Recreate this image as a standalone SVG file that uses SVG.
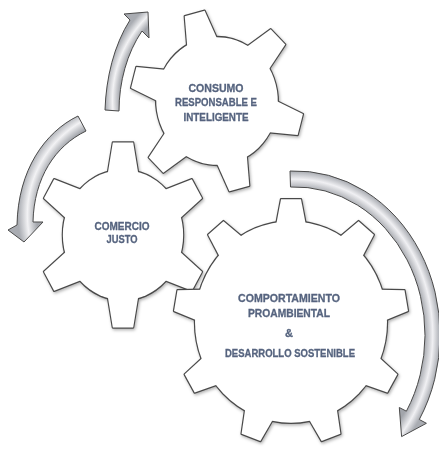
<svg xmlns="http://www.w3.org/2000/svg" xmlns:xlink="http://www.w3.org/1999/xlink" width="439" height="450" viewBox="0 0 439 450">
<defs>
<style>
.gear-out { fill:#4a4a4a; stroke:#4a4a4a; stroke-width:2.4; stroke-linejoin:round; }
.gear-in { fill:#ffffff; stroke:none; }
.gear { filter:url(#shadow); }
.lbl { font-family:"Liberation Sans", Arial, sans-serif; font-weight:bold; font-size:11px; fill:#56647f; stroke:#56647f; stroke-width:0.3; text-anchor:middle; }
.arrow { stroke:#4a4a4a; stroke-width:1; stroke-linejoin:round; }
</style>
<filter id="shadow" x="-10%" y="-10%" width="120%" height="120%">
<feDropShadow dx="1" dy="1.5" stdDeviation="1.8" flood-color="#000" flood-opacity="0.3"/>
</filter>
<radialGradient id="gA" gradientUnits="userSpaceOnUse" cx="230" cy="100" r="125">
<stop offset="0.88" stop-color="#a2a5ab"/><stop offset="0.94" stop-color="#f2f2f4"/><stop offset="1" stop-color="#a9acb2"/>
</radialGradient>
<radialGradient id="gB" gradientUnits="userSpaceOnUse" cx="135" cy="215" r="117">
<stop offset="0.84" stop-color="#a2a5ab"/><stop offset="0.92" stop-color="#f2f2f4"/><stop offset="1" stop-color="#a9acb2"/>
</radialGradient>
<radialGradient id="gC" gradientUnits="userSpaceOnUse" cx="0" cy="0" r="1" gradientTransform="translate(295 335) scale(145 164)">
<stop offset="0.89" stop-color="#a2a5ab"/><stop offset="0.95" stop-color="#f0f0f3"/><stop offset="1" stop-color="#a9acb2"/>
</radialGradient>
<polygon id="t6" points="-16,-57 -10.5,-88 10.5,-88 16,-57"/>
<g id="g6">
<circle r="62"/>
<use xlink:href="#t6"/>
<use xlink:href="#t6" transform="rotate(60)"/>
<use xlink:href="#t6" transform="rotate(120)"/>
<use xlink:href="#t6" transform="rotate(180)"/>
<use xlink:href="#t6" transform="rotate(240)"/>
<use xlink:href="#t6" transform="rotate(300)"/>
</g>
<polygon id="t9" points="-15,-92 -10,-117 10,-117 15,-92"/>
<g id="g9">
<circle r="96"/>
<use xlink:href="#t9"/>
<use xlink:href="#t9" transform="rotate(40)"/>
<use xlink:href="#t9" transform="rotate(80)"/>
<use xlink:href="#t9" transform="rotate(120)"/>
<use xlink:href="#t9" transform="rotate(160)"/>
<use xlink:href="#t9" transform="rotate(200)"/>
<use xlink:href="#t9" transform="rotate(240)"/>
<use xlink:href="#t9" transform="rotate(280)"/>
<use xlink:href="#t9" transform="rotate(320)"/>
</g>
</defs>

<g id="gear-consumo" class="gear">
<g transform="translate(217 101) scale(0.98 1.03) rotate(-15)">
<use class="gear-out" xlink:href="#g6"/>
<use class="gear-in" xlink:href="#g6"/>
</g>
<text class="lbl" x="216" y="92" textLength="55" lengthAdjust="spacingAndGlyphs">CONSUMO</text>
<text class="lbl" x="216" y="106" textLength="82" lengthAdjust="spacingAndGlyphs">RESPONSABLE E</text>
<text class="lbl" x="216" y="121" textLength="65" lengthAdjust="spacingAndGlyphs">INTELIGENTE</text>
</g>

<g id="gear-comercio" class="gear">
<g transform="translate(123 235) scale(0.97 1.05)">
<use class="gear-out" xlink:href="#g6"/>
<use class="gear-in" xlink:href="#g6"/>
</g>
<text class="lbl" x="122" y="230" textLength="55" lengthAdjust="spacingAndGlyphs">COMERCIO</text>
<text class="lbl" x="122" y="243" textLength="31" lengthAdjust="spacingAndGlyphs">JUSTO</text>
</g>

<g id="gear-comportamiento" class="gear">
<g transform="translate(291 322) scale(1 1.05)">
<use class="gear-out" xlink:href="#g9"/>
<use class="gear-in" xlink:href="#g9"/>
</g>
<text class="lbl" x="289" y="302" textLength="102" lengthAdjust="spacingAndGlyphs">COMPORTAMIENTO</text>
<text class="lbl" x="289" y="317" textLength="82" lengthAdjust="spacingAndGlyphs">PROAMBIENTAL</text>
<text class="lbl" x="289" y="337">&amp;</text>
<text class="lbl" x="290" y="357" textLength="130" lengthAdjust="spacingAndGlyphs">DESARROLLO SOSTENIBLE</text>
</g>

<g id="connectors">
<path class="arrow" fill="url(#gA)" d="M105,110 C106,78 114,45 130,20 L124,14 L148,12 L149,38 L142,31 C127,53 119,82 119,111 Z"/>
<path class="arrow" fill="url(#gB)" d="M78,116 C45,132 18,170 17,225 L8,230 L24,242 L43,222 L33,222 C34,178 55,146 86,131 Z"/>
<path class="arrow" fill="url(#gC)" d="M290,171 A145 164 0 0 1 419.3,419.5 L426.4,423.3 L401.6,436.6 L399.3,407.5 L406.4,411.2 A130 148 0 0 0 290.5,187 Z"/>
</g>
</svg>
